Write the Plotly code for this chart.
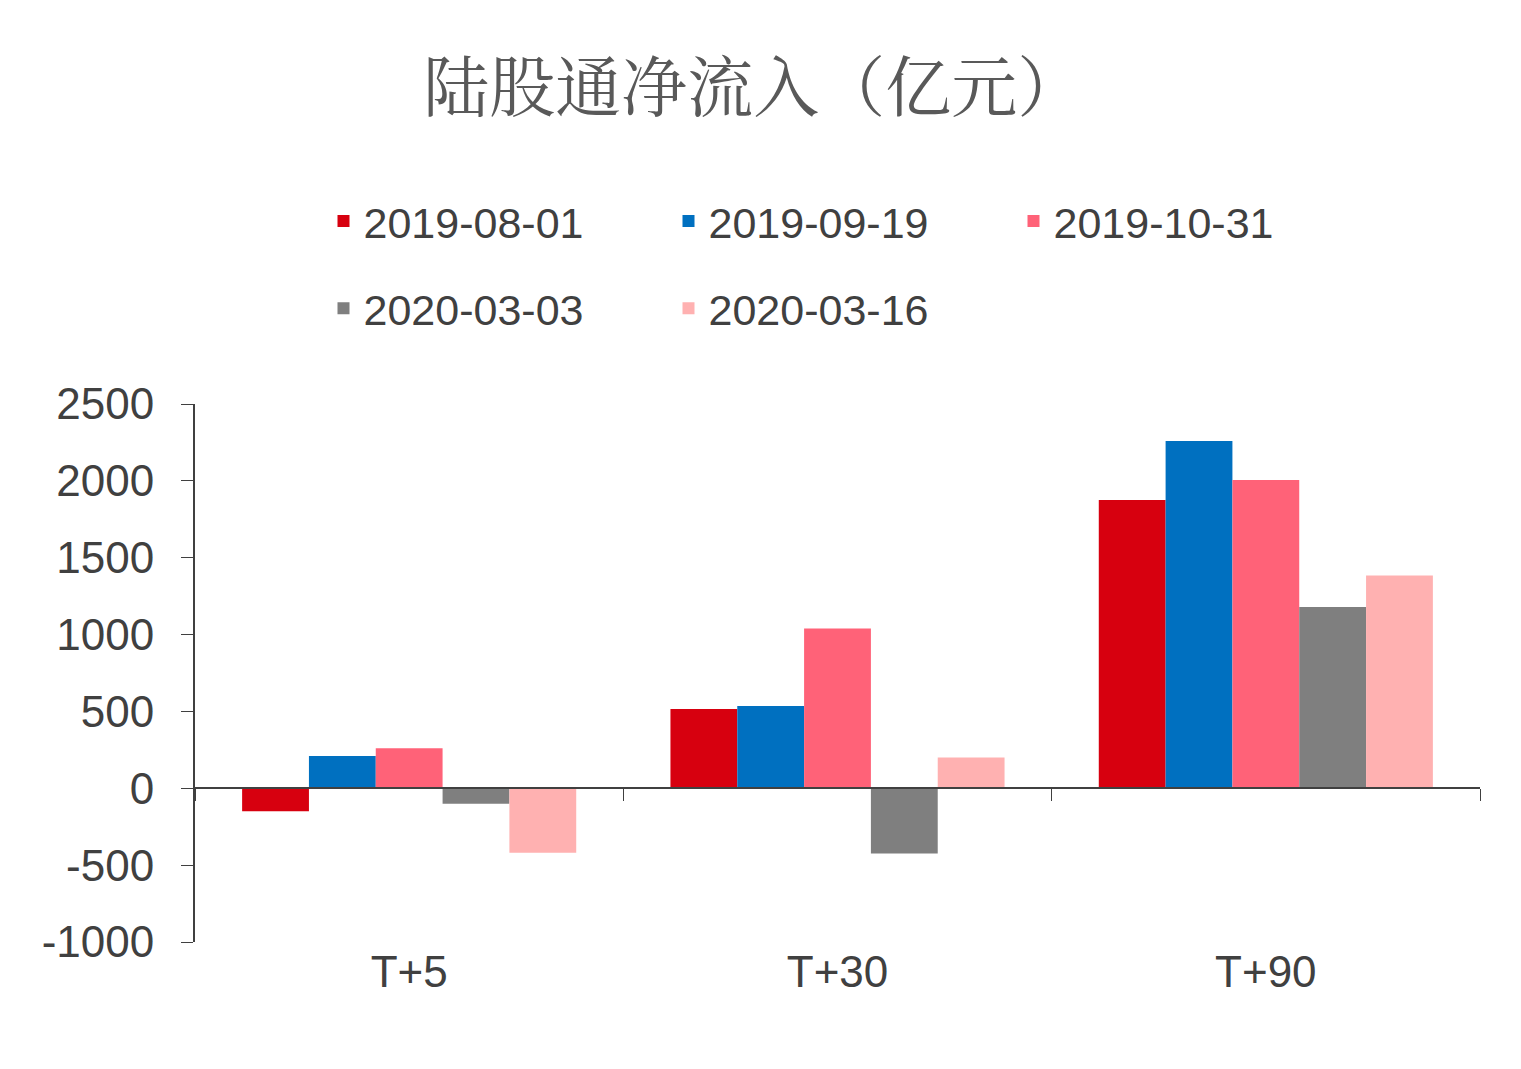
import plotly.graph_objects as go

periods = ["T+5", "T+30", "T+90"]
series_names = ["2019-08-01", "2019-09-19", "2019-10-31", "2020-03-03", "2020-03-16"]
v_20190801 = [-150, 515, 1875]
v_20190919 = [210, 535, 2260]
v_20191031 = [260, 1040, 2005]
v_20200303 = [-100, -425, 1180]
v_20200316 = [-420, 200, 1385]
colors = ["#D7000F", "#0070C0", "#FF6278", "#7F7F7F", "#FFB1B1"]
y_ticks = [-1000, -500, 0, 500, 1000, 1500, 2000, 2500]

values = [v_20190801, v_20190919, v_20191031, v_20200303, v_20200316]
font = "Liberation Sans, Arial, sans-serif"

fig = go.Figure()
for i, (name, vals) in enumerate(zip(series_names, values)):
    fig.add_trace(go.Bar(
        x=periods, y=vals, name=name, marker_color=colors[i],
        marker_line_width=0,
        legend="legend" if i < 3 else "legend2",
    ))

# invisible trace so the zero-line axis with group ticks is drawn
fig.add_trace(go.Scatter(x=[-0.5, 2.5], y=[0, 0], xaxis="x2", mode="lines",
                         line=dict(width=0), showlegend=False, hoverinfo="skip"))

legend_style = dict(orientation="h", font=dict(family=font, size=43, color="#404040"),
                    itemwidth=30, xanchor="left", yanchor="middle",
                    bgcolor="rgba(0,0,0,0)", tracegroupgap=0, entrywidth=300)

fig.update_layout(
    width=1521, height=1069,
    paper_bgcolor="white", plot_bgcolor="white",
    margin=dict(l=187, r=49, t=396, b=135),
    title=dict(text="陆股通净流入（亿元）", x=0.49, xanchor="center", y=0.925,
               yanchor="middle",
               font=dict(family="Noto Serif CJK SC, Noto Sans CJK SC", size=66, color="#595959")),
    barmode="group", bargap=0.22, bargroupgap=0,
    legend=dict(x=0.1, y=1.34, **legend_style),
    legend2=dict(x=0.1, y=1.178, **legend_style),
    xaxis=dict(tickfont=dict(family=font, size=44, color="#404040"),
               showline=False, ticks="", range=[-0.5, 2.5]),
    xaxis2=dict(overlaying="x", anchor="free", position=1000 / 3500,
                range=[-0.5, 2.5], tickvals=[-0.5, 0.5, 1.5, 2.5],
                ticks="outside", ticklen=12, tickcolor="#404040",
                showticklabels=False, showline=True, linecolor="#404040",
                linewidth=2, showgrid=False, zeroline=False),
    yaxis=dict(range=[-1000, 2500], tickvals=y_ticks,
               ticktext=[str(v) for v in y_ticks],
               showgrid=False, zeroline=False,
               showline=True, linecolor="#404040", linewidth=2,
               ticks="outside", ticklen=12, tickcolor="#404040",
               ticklabelstandoff=18,
               tickfont=dict(family=font, size=44, color="#404040")),
)

fig.write_html("out.html")
